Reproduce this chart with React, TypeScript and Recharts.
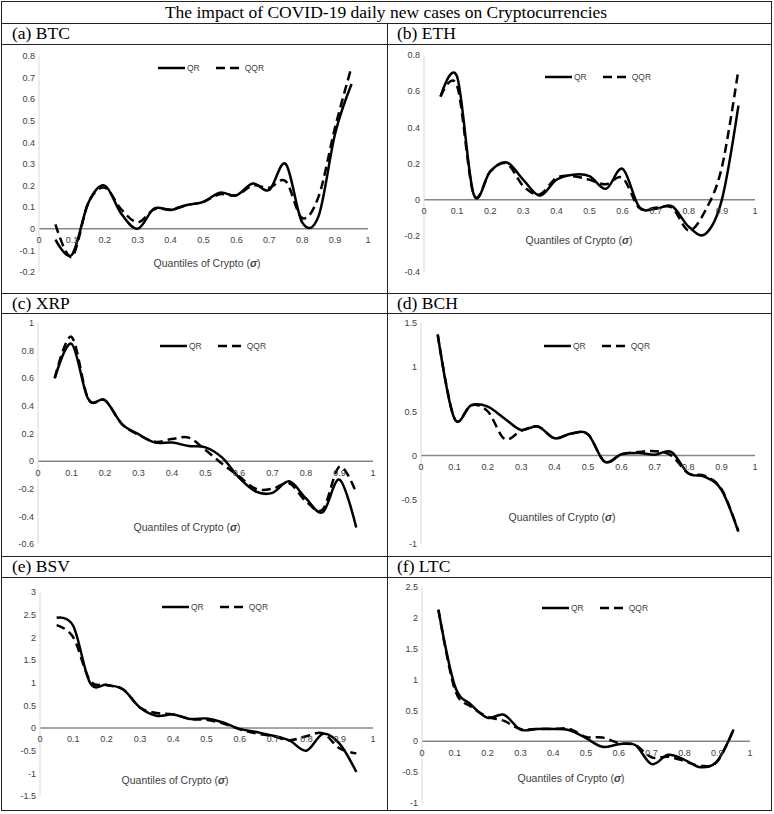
import React from "react";
import { LineChart, Line, XAxis, YAxis, ReferenceLine, ReferenceDot, Legend } from "recharts";

// quantile grid shared by every panel
const quantiles = [0.05, 0.1, 0.15, 0.2, 0.25, 0.3, 0.35, 0.4, 0.45, 0.5, 0.55, 0.6, 0.65, 0.7, 0.75, 0.8, 0.85, 0.9, 0.95];
const xTicks = [0, 0.1, 0.2, 0.3, 0.4, 0.5, 0.6, 0.7, 0.8, 0.9, 1];
const seriesOrder = ["QR", "QQR"];

const btcQR = [-0.05, -0.12, 0.12, 0.2, 0.07, 0.0, 0.094, 0.087, 0.11, 0.125, 0.167, 0.155, 0.21, 0.18, 0.3, 0.03, 0.06, 0.44, 0.67];
const btcQQR = [0.02, -0.13, 0.12, 0.19, 0.09, 0.03, 0.09, 0.09, 0.11, 0.125, 0.16, 0.155, 0.2, 0.19, 0.22, 0.05, 0.15, 0.47, 0.75];
const btcTicks = [-0.2, -0.1, 0, 0.1, 0.2, 0.3, 0.4, 0.5, 0.6, 0.7, 0.8];

const ethQR = [0.57, 0.68, 0.03, 0.156, 0.206, 0.11, 0.022, 0.11, 0.138, 0.13, 0.06, 0.17, -0.04, -0.05, -0.037, -0.15, -0.19, 0.0, 0.52];
const ethQQR = [0.57, 0.63, 0.03, 0.155, 0.2, 0.075, 0.03, 0.12, 0.13, 0.11, 0.085, 0.12, -0.045, -0.045, -0.045, -0.17, -0.06, 0.18, 0.72];
const ethTicks = [-0.4, -0.2, 0, 0.2, 0.4, 0.6, 0.8];

const xrpQR = [0.6, 0.85, 0.45, 0.44, 0.27, 0.195, 0.134, 0.134, 0.11, 0.1, 0.025, -0.12, -0.22, -0.23, -0.146, -0.27, -0.37, -0.134, -0.48];
const xrpQQR = [0.6, 0.9, 0.45, 0.44, 0.27, 0.19, 0.14, 0.16, 0.17, 0.08, -0.02, -0.11, -0.2, -0.2, -0.16, -0.29, -0.35, -0.04, -0.23];
const xrpTicks = [-0.6, -0.4, -0.2, 0, 0.2, 0.4, 0.6, 0.8, 1];

const bchQR = [1.37, 0.42, 0.57, 0.555, 0.42, 0.29, 0.33, 0.196, 0.25, 0.24, -0.07, 0.015, 0.03, 0.01, 0.04, -0.2, -0.24, -0.39, -0.86];
const bchQQR = [1.37, 0.42, 0.57, 0.5, 0.19, 0.28, 0.33, 0.196, 0.25, 0.24, -0.07, 0.015, 0.04, 0.05, 0.0, -0.2, -0.23, -0.38, -0.85];
const bchTicks = [-1, -0.5, 0, 0.5, 1, 1.5];

const bsvQR = [2.43, 2.25, 1.0, 0.95, 0.85, 0.45, 0.27, 0.3, 0.2, 0.21, 0.12, -0.02, -0.09, -0.17, -0.28, -0.5, -0.13, -0.35, -0.97];
const bsvQQR = [2.27, 2.0, 1.05, 0.95, 0.85, 0.45, 0.33, 0.3, 0.2, 0.18, 0.1, -0.03, -0.12, -0.18, -0.27, -0.18, -0.12, -0.45, -0.56];
const bsvTicks = [-1.5, -1, -0.5, 0, 0.5, 1, 1.5, 2, 2.5, 3];

const ltcQR = [2.13, 0.9, 0.59, 0.38, 0.43, 0.19, 0.2, 0.2, 0.18, 0.05, -0.09, -0.05, -0.06, -0.37, -0.22, -0.3, -0.42, -0.32, 0.19];
const ltcQQR = [2.13, 0.84, 0.56, 0.4, 0.33, 0.2, 0.2, 0.2, 0.2, 0.07, 0.06, -0.03, -0.06, -0.26, -0.25, -0.32, -0.4, -0.33, 0.19];
const ltcTicks = [-1, -0.5, 0, 0.5, 1, 1.5, 2, 2.5];

const panelNames = ["(a) BTC", "(b) ETH", "(c) XRP", "(d) BCH", "(e) BSV", "(f) LTC"];
const seriesQR = [btcQR, ethQR, xrpQR, bchQR, bsvQR, ltcQR];
const seriesQQR = [btcQQR, ethQQR, xrpQQR, bchQQR, bsvQQR, ltcQQR];
const yTickSets = [btcTicks, ethTicks, xrpTicks, bchTicks, bsvTicks, ltcTicks];

// layout of each cell (box = chart area under the header row)
const layout = [
  { box: [1, 44, 386, 249], margin: [12, 19, 21, 8], legend: [157, 24], title: [206, 219] },
  { box: [387, 44, 384, 249], margin: [11, 16, 21, 7], legend: [158, 33], title: [192, 196] },
  { box: [1, 313, 386, 243], margin: [10, 14, 12, 7], legend: [159, 33], title: [186, 214] },
  { box: [387, 313, 384, 243], margin: [10, 16, 12, 4], legend: [157, 33], title: [175, 204] },
  { box: [1, 577, 386, 233], margin: [15, 14, 14, 9], legend: [161, 30], title: [174, 203] },
  { box: [387, 577, 384, 233], margin: [10, 21, 7, 5], legend: [155, 31], title: [184, 201] },
];

const AXIS_W = 30;
const textColor = "#404040";

// Excel-like smoothed line (Catmull-Rom through each point)
function smoothCurve(context: any) {
  const k = 1 / 6;
  let x0 = NaN, x1 = NaN, x2 = NaN, y0 = NaN, y1 = NaN, y2 = NaN;
  let n = 0;
  let line: number = NaN;
  const seg = (x: number, y: number) =>
    context.bezierCurveTo(x1 + k * (x2 - x0), y1 + k * (y2 - y0), x2 + k * (x1 - x), y2 + k * (y1 - y), x2, y2);
  return {
    areaStart() { line = 0; },
    areaEnd() { line = NaN; },
    lineStart() { x0 = x1 = x2 = y0 = y1 = y2 = NaN; n = 0; },
    lineEnd() {
      if (n === 2) context.lineTo(x2, y2);
      else if (n === 3) seg(x1, y1);
      if (line || (line !== 0 && n === 1)) context.closePath();
      line = 1 - line;
    },
    point(x: number, y: number) {
      if (n === 0) { n = 1; if (line) context.lineTo(x, y); else context.moveTo(x, y); }
      else if (n === 1) { n = 2; x1 = x; y1 = y; }
      else { n = 3; seg(x, y); }
      x0 = x1; x1 = x2; x2 = x;
      y0 = y1; y1 = y2; y2 = y;
    },
  };
}

function LegendContent(props: any) {
  const items = [...(props.payload || [])].sort(
    (a: any, b: any) => seriesOrder.indexOf(a.value) - seriesOrder.indexOf(b.value)
  );
  return (
    <div style={{ display: "flex", alignItems: "center", fontSize: 8.5, color: textColor, whiteSpace: "nowrap" }}>
      {items.map((entry: any, i: number) => (
        <React.Fragment key={entry.value}>
          <svg width={27} height={6} style={{ marginLeft: i === 0 ? 0 : 16 }}>
            <line x1={0} y1={3} x2={27} y2={3} stroke="#000" strokeWidth={2.5}
              strokeDasharray={entry.payload?.strokeDasharray} />
          </svg>
          <span style={{ marginLeft: 2, color: textColor }}>{entry.value}</span>
        </React.Fragment>
      ))}
    </div>
  );
}

function Panel({ idx }: { idx: number }) {
  const lay = layout[idx];
  const [bx, by, bw, bh] = lay.box;
  const [mt, mr, mb, ml] = lay.margin;
  const ticks = yTickSets[idx];
  const data = quantiles.map((q, i) => ({ q, QR: seriesQR[idx][i], QQR: seriesQQR[idx][i] }));
  return (
    <div style={{ position: "absolute", left: bx, top: by, width: bw, height: bh }}>
      <LineChart width={bw} height={bh} data={data} margin={{ top: mt, right: mr, bottom: mb, left: ml }}>
        <XAxis type="number" dataKey="q" domain={[0, 1]} hide />
        <YAxis
          type="number"
          domain={[ticks[0], ticks[ticks.length - 1]]}
          ticks={ticks}
          interval={0}
          width={AXIS_W}
          axisLine={{ stroke: "#d9d9d9" }}
          tickLine={false}
          tickSize={2}
          tickMargin={2}
          tick={{ fontSize: 9, fill: textColor }}
          tickFormatter={(v: number) => String(v)}
        />
        <ReferenceLine y={0} stroke="#868686" strokeWidth={1.5} />
        {xTicks.map((t) => (
          <ReferenceDot key={t} x={t} y={0} r={0} fill="none" stroke="none"
            label={{ value: String(t), position: "bottom", offset: 8, fontSize: 9, fill: textColor }} />
        ))}
        <Line dataKey="QR" name="QR" type={smoothCurve as any} stroke="#000" strokeWidth={2.5} dot={false}
          activeDot={false} isAnimationActive={false} />
        <Line dataKey="QQR" name="QQR" type={smoothCurve as any} stroke="#000" strokeWidth={2.5} strokeDasharray="9 5"
          dot={false} activeDot={false} isAnimationActive={false} />
        <Legend layout="horizontal" verticalAlign="middle" align="center" content={LegendContent}
          wrapperStyle={{ left: lay.legend[0], top: lay.legend[1] - 5, width: "auto", height: 10 }} />
      </LineChart>
      <div style={{
        position: "absolute", left: lay.title[0], top: lay.title[1], transform: "translate(-50%, -50%)",
        fontSize: 10.5, color: textColor, whiteSpace: "nowrap",
      }}>
        Quantiles of Crypto (<b><i>σ</i></b>)
      </div>
    </div>
  );
}

const hLines = [[0, 1, 772], [0, 23, 772], [0, 44, 772], [0, 293, 772], [0, 313, 772], [0, 556, 772], [0, 577, 772], [0, 810, 772]];
const vLines = [[1, 1, 810], [771, 1, 810], [387, 23, 788]];

export default function App() {
  return (
    <div style={{ position: "absolute", left: 0, top: 0, width: 774, height: 814, background: "#fff", fontFamily: "'Liberation Sans', Arial, sans-serif" }}>
      {hLines.map(([x, y, w], i) => (
        <div key={"h" + i} style={{ position: "absolute", left: x + 1, top: y, width: w - 2, height: 1, background: "#222" }} />
      ))}
      {vLines.map(([x, y, h], i) => (
        <div key={"v" + i} style={{ position: "absolute", left: x, top: y, width: 1, height: h, background: "#222" }} />
      ))}
      <div style={{ position: "absolute", left: 1, top: 1, width: 770, height: 22, display: "flex", alignItems: "center", justifyContent: "center", fontFamily: "'Liberation Serif', 'Times New Roman', serif", fontSize: 17.5 }}>
        The impact of COVID-19 daily new cases on Cryptocurrencies
      </div>
      {panelNames.map((name, i) => {
        const row = Math.floor(i / 2);
        const col = i % 2;
        const top = [23, 293, 556][row];
        return (
          <div key={name} style={{ position: "absolute", left: col === 0 ? 12 : 397, top, height: 21, display: "flex", alignItems: "center", fontFamily: "'Liberation Serif', 'Times New Roman', serif", fontSize: 17.5 }}>
            {name}
          </div>
        );
      })}
      {panelNames.map((name, i) => <Panel key={name} idx={i} />)}
    </div>
  );
}
